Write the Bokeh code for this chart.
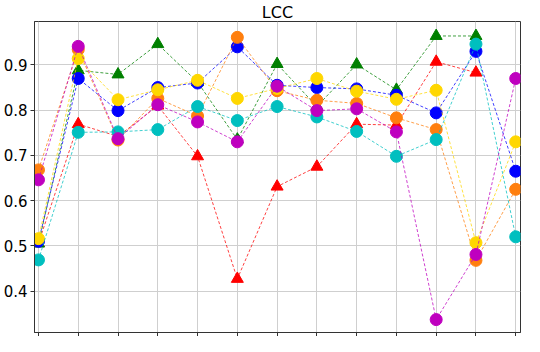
from bokeh.plotting import figure
from bokeh.models import FixedTicker, Range1d
from bokeh.embed import file_html
from bokeh.resources import INLINE

x = list(range(13))
x12 = list(range(12))

red    = [0.506, 0.769, 0.742, 0.810, 0.698, 0.427, 0.631, 0.675, 0.769, 0.767, 0.907, 0.883]
green  = [0.505, 0.888, 0.879, 0.946, 0.862, 0.735, 0.902, 0.808, 0.901, 0.845, 0.964, 0.964]
blue   = [0.510, 0.870, 0.799, 0.850, 0.860, 0.940, 0.855, 0.850, 0.847, 0.833, 0.794, 0.930, 0.665]
orange = [0.668, 0.934, 0.734, 0.826, 0.787, 0.961, 0.843, 0.822, 0.815, 0.783, 0.757, 0.468, 0.625]
gold   = [0.516, 0.914, 0.823, 0.845, 0.866, 0.826, 0.848, 0.870, 0.842, 0.824, 0.844, 0.507, 0.730]
cyan   = [0.469, 0.751, 0.752, 0.757, 0.808, 0.777, 0.808, 0.785, 0.753, 0.698, 0.735, 0.946, 0.520]
magenta= [0.646, 0.941, 0.737, 0.812, 0.774, 0.730, 0.853, 0.799, 0.803, 0.752, 0.337, 0.481, 0.870]

y_ticks = [0.4, 0.5, 0.6, 0.7, 0.8, 0.9]

p = figure(width=524, height=336, output_backend="svg", toolbar_location=None,
           title="LCC", x_range=Range1d(-0.1, 12.12), y_range=Range1d(0.3085, 0.996),
           min_border_left=0, min_border_right=4, min_border_bottom=0, min_border_top=0)

p.title.align = "center"
p.title.text_font = "DejaVu Sans"
p.title.text_font_size = "16px"
p.title.text_font_style = "normal"
p.title.text_color = "black"
p.title.offset = 0
p.title.standoff = 0

p.outline_line_color = "#333333"
p.outline_line_width = 1

p.xaxis.ticker = FixedTicker(ticks=x)
p.xaxis.major_label_overrides = {i: "" for i in x}
p.xaxis.major_label_text_font_size = "1px"
p.xaxis.major_label_standoff = 0
p.xaxis.axis_label_standoff = 0
p.yaxis.ticker = FixedTicker(ticks=y_ticks)
p.yaxis.major_label_text_font = "DejaVu Sans"
p.yaxis.major_label_text_font_size = "15px"
p.yaxis.major_label_text_color = "black"
p.yaxis.major_label_standoff = 3
for ax in (p.xaxis, p.yaxis):
    ax.axis_line_color = "#333333"
    ax.major_tick_line_color = "#333333"
    ax.major_tick_in = 0
    ax.major_tick_out = 4
    ax.minor_tick_line_color = None

p.xgrid.ticker = FixedTicker(ticks=x)
p.ygrid.ticker = FixedTicker(ticks=y_ticks)
p.grid.grid_line_color = "#cfcfcf"
p.grid.grid_line_width = 1

series = [
    (x12, red, "red", "triangle"),
    (x12, green, "green", "triangle"),
    (x, blue, "blue", "circle"),
    (x, orange, "#ff7f0e", "circle"),
    (x, gold, "gold", "circle"),
    (x, cyan, "#00bfbf", "circle"),
    (x, magenta, "#bf00bf", "circle"),
]
for xs, ys, c, m in series:
    p.line(xs, ys, line_color=c, line_width=1, line_dash="3 2", line_alpha=0.75)
    p.scatter(xs, ys, marker=m, size=12, fill_color=c, line_color=c)

open("out.html", "w").write(file_html(p, INLINE))
